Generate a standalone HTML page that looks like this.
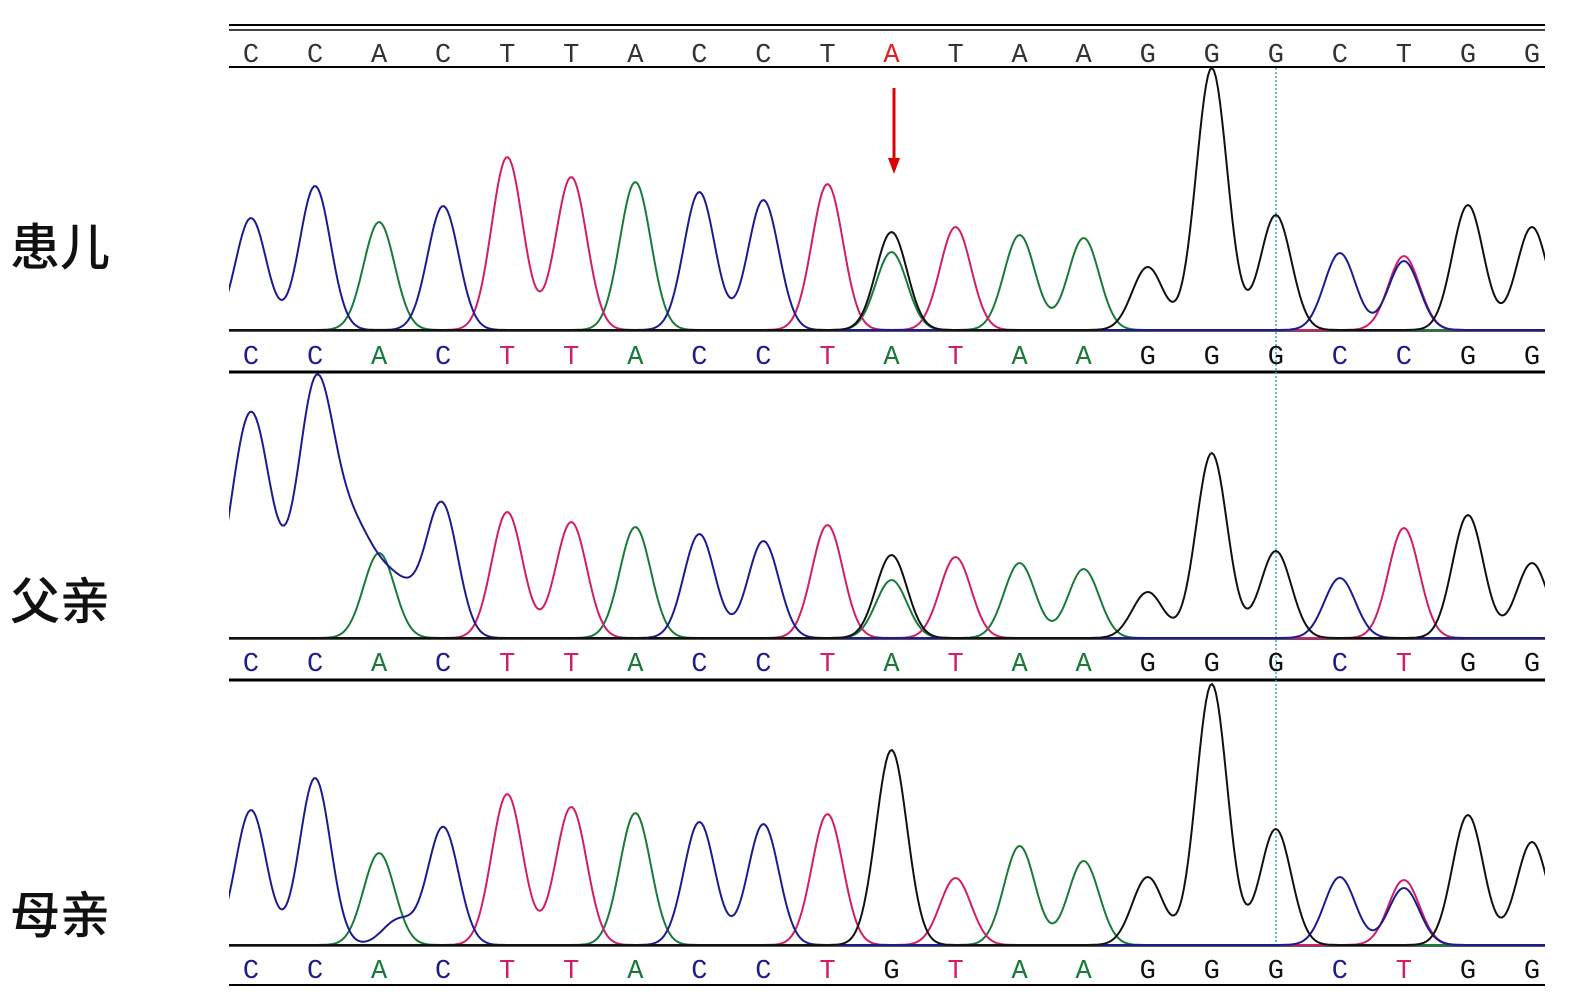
<!DOCTYPE html>
<html><head><meta charset="utf-8"><style>
body{margin:0;background:#fff;width:1571px;height:1003px;overflow:hidden;position:relative;font-family:"Liberation Sans","Noto Sans CJK SC",sans-serif}
.lab{position:absolute;left:10px;font-size:50px;font-family:"Noto Sans CJK SC","WenQuanYi Zen Hei",sans-serif;font-weight:500;color:#111}
svg{position:absolute;left:0;top:0}
</style></head><body>
<div class="lab" style="top:208px">患儿</div>
<div class="lab" style="top:562px">父亲</div>
<div class="lab" style="top:876px">母亲</div>
<svg id="s" width="1571" height="1003" xmlns="http://www.w3.org/2000/svg">
<defs><clipPath id="c"><rect x="229" y="0" width="1316" height="1003"/></clipPath></defs>
<line x1="229" y1="25" x2="1545" y2="25" stroke="#000" stroke-width="2"/>
<line x1="229" y1="30" x2="1545" y2="30" stroke="#000" stroke-width="1.5"/>
<line x1="229" y1="67" x2="1545" y2="67" stroke="#000" stroke-width="2"/>
<line x1="229" y1="372" x2="1545" y2="372" stroke="#000" stroke-width="3"/>
<line x1="229" y1="680" x2="1545" y2="680" stroke="#000" stroke-width="3"/>
<line x1="229" y1="985" x2="1545" y2="985" stroke="#000" stroke-width="2"/>
<line x1="229" y1="331" x2="1545" y2="331" stroke="#222" stroke-width="1.5"/>
<line x1="229" y1="639" x2="1545" y2="639" stroke="#222" stroke-width="1.5"/>
<line x1="229" y1="946" x2="1545" y2="946" stroke="#222" stroke-width="1.5"/>
<line x1="1276" y1="68" x2="1276" y2="945" stroke="#3aa" stroke-width="1.5" stroke-dasharray="2,2"/>
<g id="g" clip-path="url(#c)"></g>
<g id="t" font-family="Liberation Mono, monospace" font-size="27" text-anchor="middle"></g>
<line x1="894" y1="88" x2="894" y2="160" stroke="#d00" stroke-width="3"/>
<polygon points="888,158 900,158 894,174" fill="#d00"/>
</svg>
<script>
var X=[];for(var i=0;i<21;i++)X.push(251+i*64.05);
var col={C:'#1c1c90',A:'#1a7a3a',T:'#d01e6a',G:'#111'};
var s0="CCACTTACCTATAAGGGCTGG",s1="CCACTTACCTATAAGGGCCGG",s2="CCACTTACCTATAAGGGCTGG",s3="CCACTTACCTGTAAGGGCTGG";
var P=[
{b:330,pk:[['C',0,218],['C',1,186],['A',2,222],['C',3,206],['T',4,157],['T',5,177],['A',6,182],['C',7,192],['C',8,200],['T',9,184],['G',10,232],['A',10,252],['T',11,227],['A',12,235],['A',13,238],['G',14,267],['G',15,68],['G',16,215],['C',17,253],['T',18,256],['C',18,261],['G',19,205],['G',20,227]]},
{b:638,pk:[['C',0,412,20],['C',1,400,18],['C',1.6,535,22],['C',2.3,590,20],['C',2.8,625,14],['A',2,553],['C',3,515],['T',4,512],['T',5,522],['A',6,527],['C',7,534],['C',8,541],['T',9,525],['G',10,555],['A',10,580],['T',11,557],['A',12,563],['A',13,569],['G',14,592],['G',15,453],['G',16,551],['C',17,578],['T',18,528],['G',19,515],['G',20,563]]},
{b:945,pk:[['C',0,810],['C',1,778],['A',2,853],['C',2.3,920],['C',3,827],['T',4,794],['T',5,807],['A',6,813],['C',7,822],['C',8,824],['T',9,814],['G',10,750],['T',11,878],['A',12,846],['A',13,861],['G',14,877],['G',15,684],['G',16,829],['C',17,877],['T',18,880],['C',18,888],['G',19,815],['G',20,842]]}];
var g=document.getElementById('g'),h='';
P.forEach(function(p){
 ['A','T','C','G'].forEach(function(ch){
  var pk=p.pk.filter(function(k){return k[0]==ch});var d='';
  for(var x=222;x<=1550;x+=2){var y=p.b;pk.forEach(function(k){var cx=251+k[1]*64.05,sg=k[3]||15.5;y-=(p.b-k[2])*Math.exp(-(x-cx)*(x-cx)/(2*sg*sg));});d+=(d?'L':'M')+x+','+y.toFixed(1);}
  h+='<path d="'+d+'" fill="none" stroke="'+col[ch]+'" stroke-width="2"/>';
 });
});
g.innerHTML=h;
var t='';
function row(str,y,colored){for(var i=0;i<21;i++){var c=colored?col[str[i]]:(i==10?'#e02020':'#333');t+='<text x="'+X[i]+'" y="'+y+'" fill="'+c+'">'+str[i]+'</text>';}}
row(s0,62,false);row(s1,364,true);row(s2,671,true);row(s3,978,true);
document.getElementById('t').innerHTML=t;
</script>
</body></html>
